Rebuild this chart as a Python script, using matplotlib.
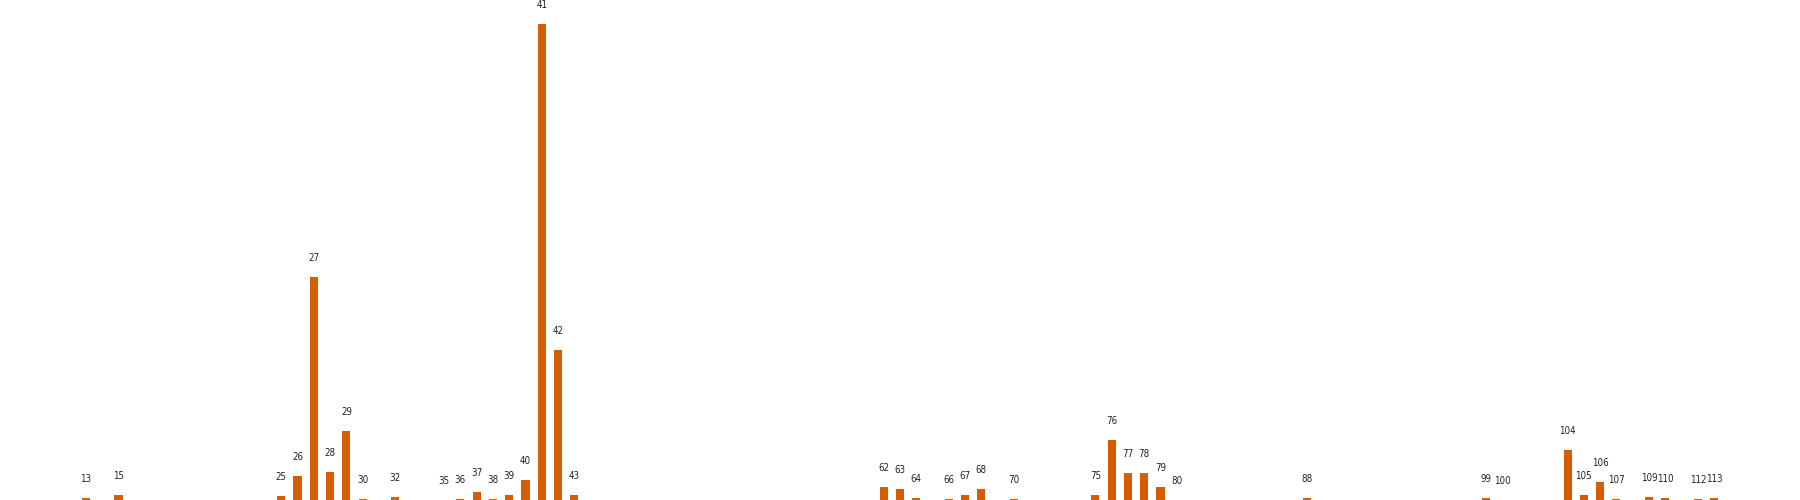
import matplotlib
matplotlib.use("Agg")
import matplotlib.pyplot as plt
from matplotlib import font_manager

# category index of each bar and its height
positions = [13, 15, 25, 26, 27, 28, 29, 30, 32, 35, 36, 37, 38, 39, 40, 41, 42, 43,
             62, 63, 64, 66, 67, 68, 70, 75, 76, 77, 78, 79, 80, 88, 99, 100,
             104, 105, 106, 107, 109, 110, 112, 113]
heights = [2, 5, 4, 24, 223, 28, 69, 1, 3, 0, 1, 8, 1, 5, 20, 476, 150, 5,
           13, 11, 2, 1, 5, 11, 1, 5, 60, 27, 27, 13, 0, 2, 2, 0,
           50, 5, 18, 1, 3, 2, 1, 2]
labels = [str(p) for p in positions]

# the labels in the original are set in a narrow face; use one if installed
label_font = font_manager.FontProperties(family="DejaVu Sans", size=6.6)
for f in font_manager.fontManager.ttflist:
    narrow = ("Narrow" in f.name or "Condensed" in f.name
              or str(f.stretch) in ("condensed", "semi-condensed"))
    if narrow and f.style == "normal" and f.weight in (400, "normal", "regular"):
        label_font = font_manager.FontProperties(fname=f.fname, size=7.0)
        break

fig = plt.figure(figsize=(18, 5), dpi=100)
ax = fig.add_axes([0, 0, 1, 1])

ax.bar(positions, heights, width=0.5, color="#D55E00")

for x, h, lab in zip(positions, heights, labels):
    ax.annotate(lab, (x, h), xytext=(0, 9.8), textcoords="offset points",
                ha="center", va="bottom", color="#222222",
                fontproperties=label_font)

ax.set_axis_off()
fig.savefig("out.png", dpi=100)
